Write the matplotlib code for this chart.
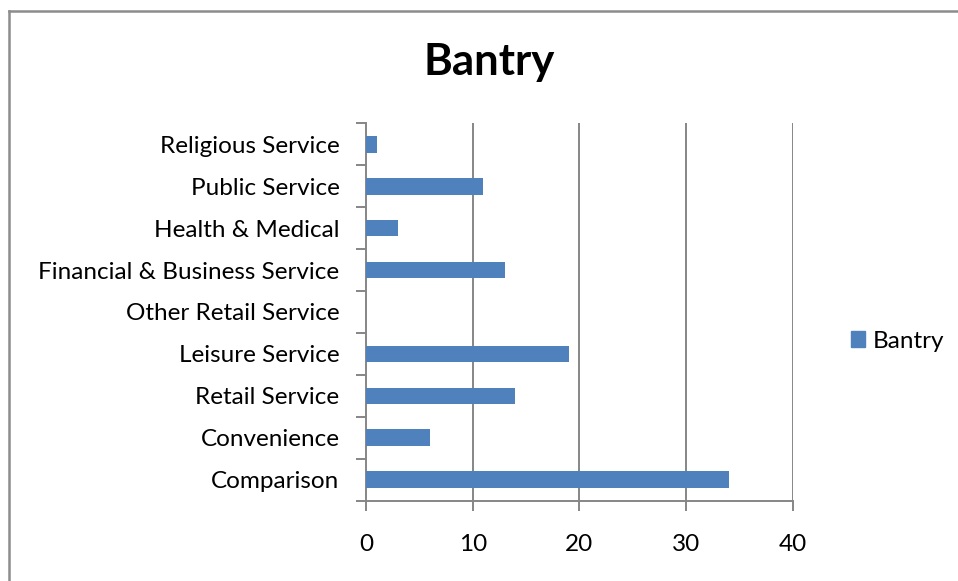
import matplotlib
matplotlib.use('Agg')
import matplotlib.pyplot as plt
from matplotlib.lines import Line2D
from matplotlib.patches import Patch
import numpy as np

plt.rcParams['font.family'] = ['Lato', 'DejaVu Sans']

categories = ['Comparison', 'Convenience', 'Retail Service', 'Leisure Service',
              'Other Retail Service', 'Financial & Business Service',
              'Health & Medical', 'Public Service', 'Religious Service']
values = [34, 6, 14, 19, 0, 13, 3, 11, 1]
x_ticks = [0, 10, 20, 30, 40]

bar_color = '#4F81BD'
grid_color = '#868686'

fig = plt.figure(figsize=(9.58, 5.81), dpi=100)
ax = fig.add_axes([0.382, 0.138, 0.4457, 0.650])

y = np.arange(len(categories))
ax.barh(y, values, height=0.4, color=bar_color, label='Bantry', zorder=3)

ax.set_xlim(0, 40)
ax.set_ylim(-0.5, len(categories) - 0.5)
ax.set_xticks(x_ticks)
ax.set_yticks(y)
ax.set_yticklabels(categories)
ax.set_yticks(np.arange(-0.5, len(categories)), minor=True)

for v in x_ticks[1:]:
    ax.axvline(v, color=grid_color, lw=1.4, zorder=1)

for side in ['top', 'right']:
    ax.spines[side].set_visible(False)
for side in ['left', 'bottom']:
    ax.spines[side].set_color(grid_color)
    ax.spines[side].set_linewidth(1.4)

ax.tick_params(axis='y', which='major', length=0, pad=19, labelsize=17.5)
ax.tick_params(axis='y', which='minor', length=7, width=1.4, color=grid_color, direction='out')
ax.tick_params(axis='x', length=7, width=1.4, color=grid_color, pad=17, labelsize=17.5)

fig.text(0.511, 0.894, 'Bantry', ha='center', va='center', fontsize=31.5, weight='bold')

fig.legend(handles=[Patch(color=bar_color, label='Bantry')], loc='center left',
           bbox_to_anchor=(0.888, 0.413), frameon=False, fontsize=17.5,
           handlelength=0.6, handleheight=0.6, handletextpad=0.3,
           borderpad=0, borderaxespad=0)

# outer chart border (top and left edges visible)
fig.add_artist(Line2D([0.0095, 1.0], [0.981, 0.981], color='#8c8c8c', lw=1.8, transform=fig.transFigure))
fig.add_artist(Line2D([0.0095, 0.0095], [0.0, 0.981], color='#8c8c8c', lw=1.8, transform=fig.transFigure))

fig.savefig('out.png', dpi=100, facecolor='white')
